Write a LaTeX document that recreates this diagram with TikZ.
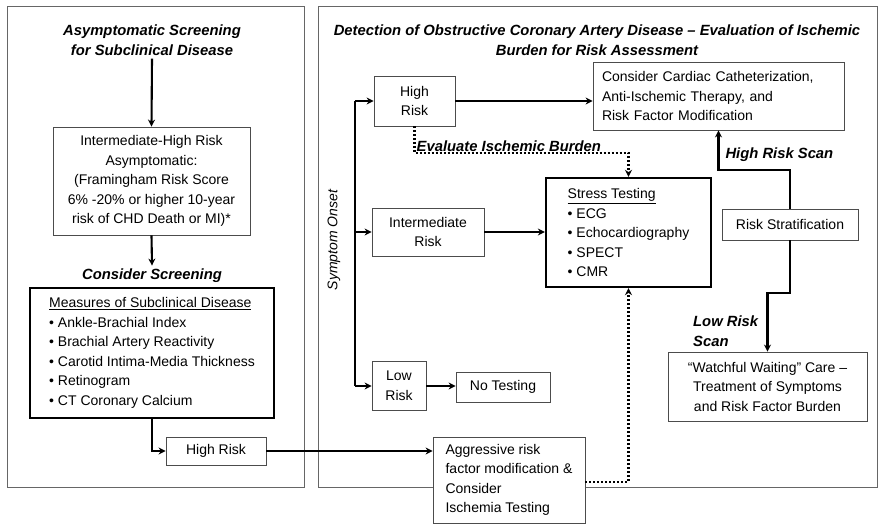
\documentclass[tikz,border=0pt]{standalone}
\usepackage{fontspec}
\setmainfont{Liberation Sans}
\usetikzlibrary{arrows.meta,calc}

\begin{document}
\begin{tikzpicture}[
  x=1pt, y=-1pt,
  font=\fontsize{14}{19.5}\selectfont,
  flow/.style={-{Stealth[length=7pt,width=7pt]}, line width=2.1pt},
  dotflow/.style={flow, dash pattern=on 2pt off 2pt},
  box/.style={rectangle, draw=black!70, line width=0.8pt, fill=white,
              align=center, inner sep=3pt},
  listbox/.style={box, draw=black, line width=2.3pt, align=left},
  lbl/.style={font=\fontsize{14.8}{19.5}\selectfont\bfseries\itshape, align=left},
  frame/.style={draw=black!60, line width=0.8pt},
]
\useasboundingbox (0,0) rectangle (879,524);

% ===== panel frames =====
\draw[frame] (7,6) rectangle (304,487);
\draw[frame] (318,6) rectangle (877,487);

% ===== left panel: asymptomatic screening =====
\node (ltitle) [lbl, align=center] at (152,40) {Asymptomatic Screening\\for Subclinical Disease};
\node (ihr) [box, minimum width=197, minimum height=108] at (151.5,181)
  {Intermediate-High Risk\\Asymptomatic:\\(Framingham Risk Score\\6\% -20\% or higher 10-year\\risk of CHD Death or MI)*};
\node (screen) [lbl] at (152,276) {Consider Screening};
\node (measures) [listbox, minimum width=244, minimum height=130] at (152,353)
  {\underline{Measures of Subclinical Disease}\\
   \textbullet\ Ankle-Brachial Index\\
   \textbullet\ Brachial Artery Reactivity\\
   \textbullet\ Carotid Intima-Media Thickness\\
   \textbullet\ Retinogram\\
   \textbullet\ CT Coronary Calcium};
\node (lhigh) [box, minimum width=100, minimum height=28] at (216,451) {High Risk};

\draw[flow] (ltitle.south) -- (ihr.north);
\draw[flow] (ihr.south) -- (screen.north);
\draw[flow] (measures.south) |- (lhigh.west);

% ===== right panel: detection of obstructive CAD =====
\node (rtitle) [lbl, align=center] at (597,40)
  {Detection of Obstructive Coronary Artery Disease – Evaluation of Ischemic\\Burden for Risk Assessment};
\node (onset) [rotate=90, font=\fontsize{14}{19.5}\selectfont\itshape] at (334,240) {Symptom Onset};
\coordinate (spine) at (355,0);

\node (rhigh) [box, minimum width=81, minimum height=50] at (414.5,101) {High\\Risk};
\node (interm) [box, minimum width=112, minimum height=48] at (428,232) {Intermediate\\Risk};
\node (low) [box, minimum width=54, minimum height=49] at (399,386) {Low\\Risk};
\node (notest) [box, minimum width=94, minimum height=30] at (503,387) {No Testing};

\node (cath) [box, align=left, inner xsep=9pt, text width=233, minimum height=68] at (718.5,96)
  {Consider Cardiac Catheterization,\\Anti-Ischemic Therapy, and\\Risk Factor Modification};
\node (stress) [listbox, minimum width=165, minimum height=109] at (628.5,232.5)
  {\underline{Stress Testing}\\
   \textbullet\ ECG\\
   \textbullet\ Echocardiography\\
   \textbullet\ SPECT\\
   \textbullet\ CMR};
\node (strat) [box, minimum width=136, minimum height=31] at (790,224.5) {Risk Stratification};
\node (watch) [box, minimum width=199, minimum height=69] at (767.5,386.5)
  {“Watchful Waiting” Care –\\Treatment of Symptoms\\and Risk Factor Burden};
\node (aggr) [box, align=left, minimum width=152, minimum height=86] at (509,480)
  {Aggressive risk\\factor modification \&\\Consider\\Ischemia Testing};

% symptom onset branches
\draw[line width=2.1pt] (spine |- rhigh.west) -- (spine |- low.west);
\draw[flow] (spine |- rhigh.west) -- (rhigh.west);
\draw[flow] (spine |- interm.west) -- (interm.west);
\draw[flow] (spine |- low.west) -- (low.west);
\draw[flow] (low.east) -- (low.east -| notest.west);

\draw[flow] (rhigh.east) -- (rhigh.east -| cath.west);
\draw[flow] (interm.east) -- (interm.east -| stress.west);

% evaluate ischemic burden (dotted)
\draw[dotflow] (rhigh.south) -- ++(0,27) coordinate (evalpt) -| (stress.north);
\node (evallbl) [lbl, anchor=south west, inner sep=2pt] at (evalpt) {Evaluate Ischemic Burden};

% scan results
\draw[flow] (strat.north) -- ++(0,-39) -| (cath.south);
\node (hiscan) [lbl, anchor=west] at (722,155) {High Risk Scan};
\draw[flow] (strat.south) -- ++(0,53) -| (watch.north);
\node (loscan) [lbl, anchor=north west, inner sep=2pt] at (691,314) {Low Risk\\Scan};

% bridge between panels
\draw[flow] (lhigh.east) -- (lhigh.east -| aggr.west);
\draw[dotflow] ($(aggr.east)+(0,2)$) -| (stress.south);
\end{tikzpicture}
\end{document}
